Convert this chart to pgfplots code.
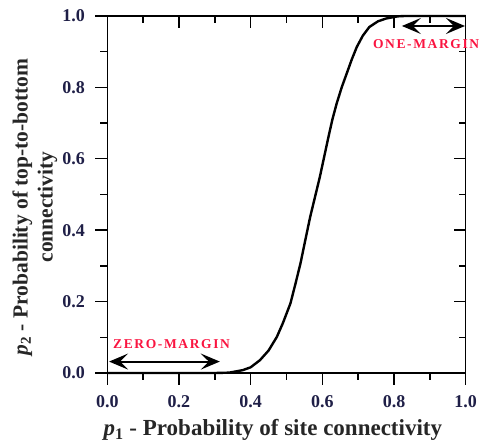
\documentclass[border=0pt]{standalone}
\usepackage{fontspec}
\setmainfont{Liberation Serif}
\newfontfamily\spaced[LetterSpace=12]{Liberation Serif}
\usepackage{pgfplots}
\pgfplotsset{compat=1.18}
\usetikzlibrary{arrows.meta}
\definecolor{tickc}{rgb}{0.12,0.12,0.28}
\definecolor{labc}{rgb}{0.15,0.15,0.15}
\definecolor{mred}{rgb}{0.98,0.08,0.25}
\tikzset{myarr/.style={black, line width=2bp, {Stealth[length=19bp,width=16bp,inset=8bp]}-{Stealth[length=19bp,width=16bp,inset=8bp]}},
  tk/.style={black, line width=1.4bp}}
\begin{document}
\begin{tikzpicture}
\begin{axis}[
  at={(107.3bp,71bp)}, anchor=south west,
  width=358.4bp, height=357bp, scale only axis,
  xmin=0, xmax=1, ymin=0, ymax=1,
  clip=false,
  axis line style={line width=1.5bp},
  major tick style={black, line width=1.4bp},
  minor tick style={black, line width=1.4bp},
  tick align=outside,
  xtick pos=bottom, ytick pos=left,
  xtick={0,0.2,0.4,0.6,0.8,1.0}, ytick={0,0.2,0.4,0.6,0.8,1.0},
  minor xtick={0.1,0.3,0.5,0.7,0.9},
  minor ytick={0.1,0.3,0.5,0.7,0.9},
  major tick length=12bp, minor tick length=7bp,
  /pgf/number format/assume math mode=true,
  /pgf/number format/fixed, /pgf/number format/fixed zerofill,
  /pgf/number format/precision=1,
  ticklabel style={font=\fontsize{18bp}{20bp}\selectfont\bfseries, text=tickc},
  xticklabel style={yshift=-7bp},
  yticklabel style={xshift=-7bp},
  xlabel={\textit{p}\textsubscript{1} - Probability of site connectivity},
  ylabel={\textit{p}\textsubscript{2} - Probability of top-to-bottom\\connectivity},
  xlabel style={font=\fontsize{23bp}{25bp}\selectfont\bfseries, text=labc, at={(axis description cs:0.462,-0.16)}, anchor=center},
  ylabel style={font=\fontsize{21.5bp}{25bp}\selectfont\bfseries, text=labc, at={(axis description cs:-0.202,0.465)}, anchor=center, align=center},
]
\addplot[black, line width=2.4bp] coordinates {
(0,0) (0.30,0) (0.34,0.001) (0.378,0.008) (0.40,0.016) (0.426,0.036)
(0.45,0.063) (0.473,0.101) (0.49,0.14) (0.511,0.195) (0.525,0.25) (0.539,0.307)
(0.552,0.37) (0.566,0.437) (0.58,0.495) (0.593,0.549) (0.605,0.605) (0.617,0.661)
(0.628,0.71) (0.640,0.755) (0.654,0.80) (0.668,0.839) (0.682,0.878) (0.696,0.913)
(0.713,0.945) (0.731,0.969) (0.755,0.985) (0.778,0.993) (0.81,0.999) (0.83,1) (1,1)
};
\pgfplotsinvokeforeach{0,0.2,0.4,0.6,0.8,1.0}{
  \draw[tk] (axis cs:#1,0) -- ++(0,-12bp);
  \draw[tk] (axis cs:#1,1) -- ++(0,-12bp);
  \draw[tk] (axis cs:0,#1) -- ++(-12bp,0);
  \draw[tk] (axis cs:1,#1) -- ++(-12bp,0);
}
\pgfplotsinvokeforeach{0.1,0.3,0.5,0.7,0.9}{
  \draw[tk] (axis cs:#1,0) -- ++(0,-7bp);
  \draw[tk] (axis cs:#1,1) -- ++(0,-7bp);
  \draw[tk] (axis cs:0,#1) -- ++(-7bp,0);
  \draw[tk] (axis cs:1,#1) -- ++(-7bp,0);
}
\draw[myarr] (axis cs:0.005,0.032) -- (axis cs:0.314,0.032);
\draw[myarr] (axis cs:0.822,0.972) -- (axis cs:0.998,0.972);
\node[anchor=west, inner sep=0pt, text=mred, font=\fontsize{13.5bp}{15bp}\selectfont\bfseries\spaced] at (axis cs:0.016,0.082) {ZERO-MARGIN};
\node[anchor=west, inner sep=0pt, text=mred, font=\fontsize{13.5bp}{15bp}\selectfont\bfseries\spaced] at (axis cs:0.741,0.922) {ONE-MARGIN};
\end{axis}
\pgfresetboundingbox
\path[use as bounding box] (0,0) rectangle (480bp,444bp);
\end{tikzpicture}
\end{document}
